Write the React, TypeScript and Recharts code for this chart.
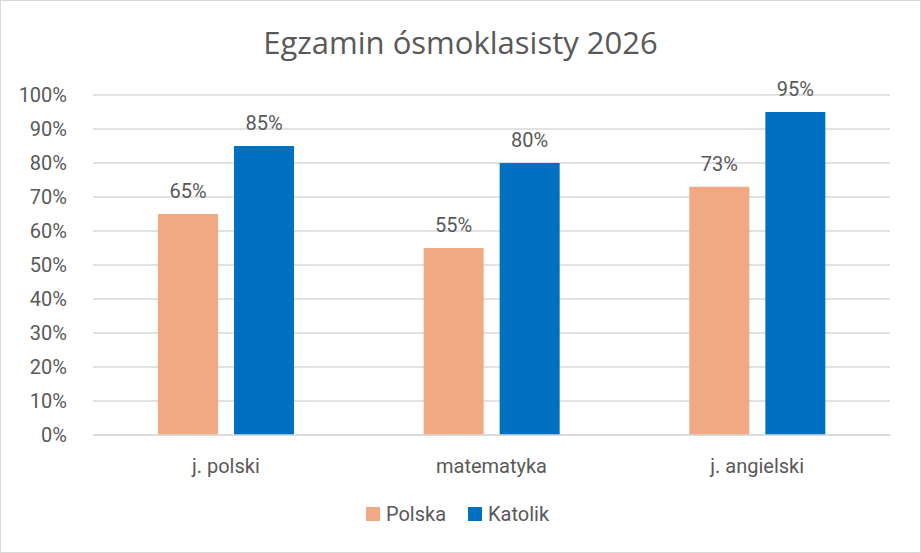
import React from 'react';
import { BarChart, Bar, XAxis, YAxis, CartesianGrid, Legend, LabelList } from 'recharts';

const subjects = ['j. polski', 'matematyka', 'j. angielski'];
const polska = [65, 55, 73];
const katolik = [85, 80, 95];
const yTicks = [0, 10, 20, 30, 40, 50, 60, 70, 80, 90, 100];

const seriesInfo = [
  { key: 'Polska', color: '#F1A983' },
  { key: 'Katolik', color: '#0070C0' },
];

const data = subjects.map((name, i) => ({ name, Polska: polska[i], Katolik: katolik[i] }));

const font = 'Roboto, "Open Sans", sans-serif';
const gray = '#595959';

const LegendBox = () => (
  <div style={{ display: 'flex', justifyContent: 'center', gap: 22, fontSize: 20, color: gray, fontFamily: font, paddingLeft: 16 }}>
    {seriesInfo.map((s) => (
      <div key={s.key} style={{ display: 'flex', alignItems: 'center', gap: 6 }}>
        <span style={{ width: 14, height: 14, background: s.color, display: 'inline-block' }} />
        <span>{s.key}</span>
      </div>
    ))}
  </div>
);

export default function App() {
  return (
    <div
      style={{
        position: 'absolute', left: 0, top: 0, width: 919, height: 551,
        border: '1px solid #d9d9d9', background: '#fff', fontFamily: font,
      }}
    >
      <div
        style={{
          position: 'absolute', top: 20, width: '100%', textAlign: 'center',
          fontSize: 31, color: gray, fontFamily: '"Open Sans", sans-serif',
        }}
      >
        Egzamin ósmoklasisty 2026
      </div>
      <BarChart
        width={919}
        height={551}
        data={data}
        margin={{ top: 94, right: 30, bottom: 26, left: 8 }}
        barSize={60}
        barGap={16}
      >
        <CartesianGrid vertical={false} stroke="#d9d9d9" strokeWidth={1.5} />
        <XAxis
          dataKey="name"
          axisLine={{ stroke: '#d9d9d9', strokeWidth: 1.5 }}
          tickLine={false}
          tick={{ fill: gray, fontSize: 20, fontFamily: font }}
          tickMargin={18}
          height={67}
        />
        <YAxis
          domain={[0, 100]}
          ticks={yTicks}
          tickFormatter={(v) => `${v}%`}
          axisLine={false}
          tickLine={false}
          tick={{ fill: gray, fontSize: 20, fontFamily: font }}
          width={84}
          tickMargin={20}
        />
        <Legend verticalAlign="bottom" content={<LegendBox />} />
        {seriesInfo.map((s) => (
          <Bar key={s.key} dataKey={s.key} fill={s.color} isAnimationActive={false}>
            <LabelList dataKey={s.key} position="top" offset={16} formatter={(v) => `${v}%`}
              style={{ fill: gray, fontSize: 20, fontFamily: font }} />
          </Bar>
        ))}
      </BarChart>
    </div>
  );
}
